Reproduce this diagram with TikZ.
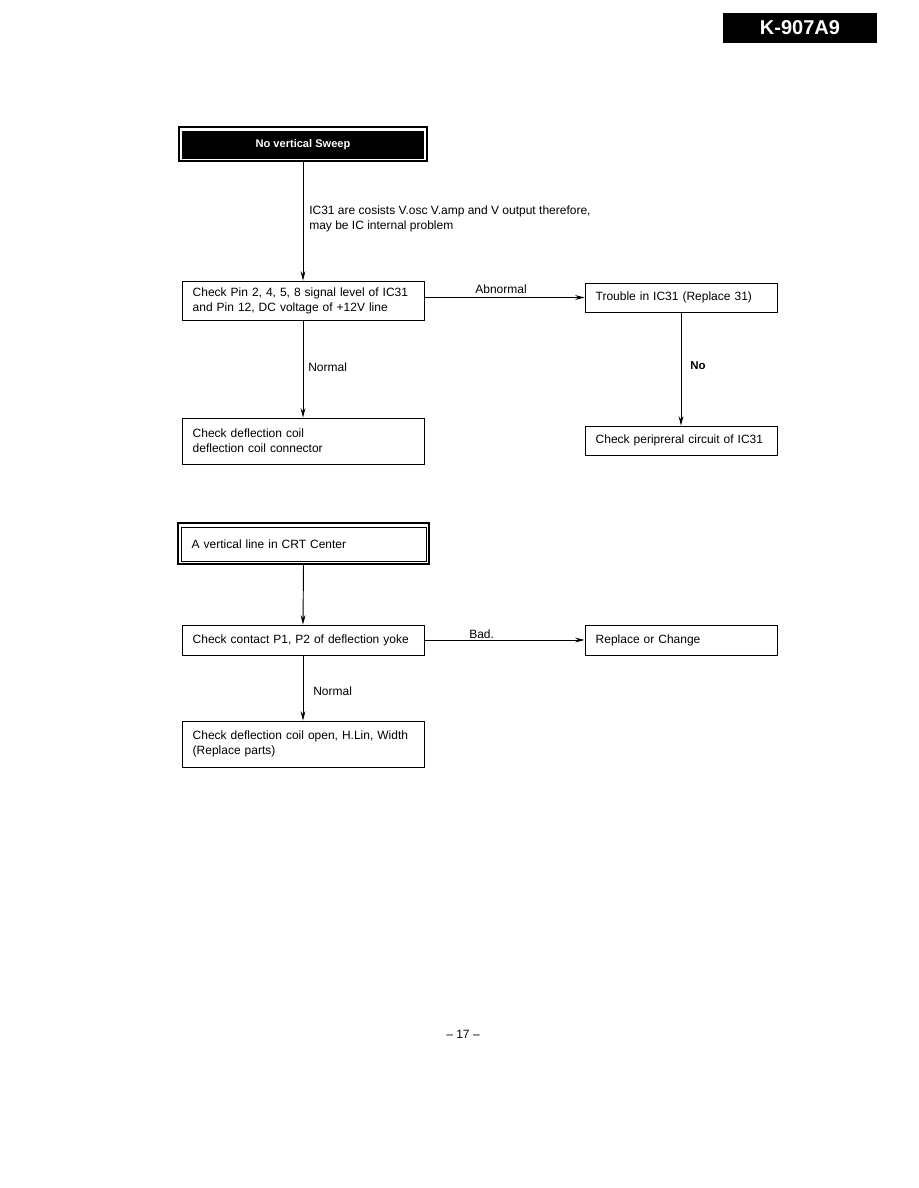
\documentclass[tikz,border=0pt]{standalone}
\usepackage{fontspec}
\setmainfont{Liberation Sans}
\usetikzlibrary{arrows.meta}
\begin{document}
\begin{tikzpicture}[x=0.75pt,y=-0.75pt,
  txt/.style={font=\fontsize{9}{11.25}\selectfont},
  box/.style={txt, draw, line width=0.7pt, inner xsep=8pt, inner ysep=0pt, align=left, anchor=center},
  wide/.style={text width=165.5pt, minimum height=#1},
  narrow/.style={text width=128pt, minimum height=#1},
  arr/.style={line width=0.7pt, -{Stealth[length=7pt,width=3.6pt]}},
  lbl/.style={txt, inner sep=0pt, align=left}]
\useasboundingbox (0,0) rectangle (918,1188);
% header tab
\node[fill=black, minimum width=115.5pt, minimum height=22.5pt, inner sep=0pt,
  text=white, font=\bfseries\fontsize{15}{18}\selectfont] (hdr) at (800,28) {K-907A9};
% first chart
\node[draw, line width=1pt, minimum width=186pt, minimum height=25.5pt, inner sep=0pt] (b1frame) at (303,144) {};
\node[fill=black, minimum width=181.5pt, minimum height=21pt, inner sep=0pt,
  text=white, font=\bfseries\fontsize{8.3}{10}\selectfont] (b1) at (303,145) {No vertical Sweep};
\node[box, wide=29.25pt] (b2) at (303,300.5) {Check Pin 2, 4, 5, 8 signal level of IC31\\and Pin 12, DC voltage of +12V line};
\node[box, narrow=21.75pt] (b3) at (681,297.5) {Trouble in IC31 (Replace 31)};
\node[box, narrow=21.75pt] (b4) at (681,440.5) {Check peripreral circuit of IC31};
\node[box, wide=34.5pt] (b5) at (303,441) {Check deflection coil\\deflection coil connector};
\draw[arr] (b1frame.south) -- (b2.north);
\draw[arr] (b2.east |- b3.west) -- (b3.west);
\draw[arr] (b3.south) -- (b4.north);
\draw[arr] (b2.south) -- (b5.north);
\node[lbl, anchor=west] (t1) at (309,219) {IC31 are cosists V.osc V.amp and V output therefore,\\may be IC internal problem};
\node[lbl] (t2) at (501,289) {Abnormal};
\node[lbl, anchor=west, font=\bfseries\fontsize{8.6}{11.25}\selectfont] (t3) at (690,366) {No};
\node[lbl, anchor=west] (t4) at (308,367) {Normal};
% second chart
\node[draw, line width=0.8pt, minimum width=188.25pt, minimum height=30.75pt, inner sep=0pt] (b6frame) at (303.5,543.5) {};
\node[box, text width=167.75pt, minimum height=25.5pt] (b6) at (303.5,544) {A vertical line in CRT Center};
\node[box, wide=22.5pt] (b7) at (303,640) {Check contact P1, P2 of deflection yoke};
\node[box, narrow=22.5pt] (b8) at (681,640) {Replace or Change};
\node[box, wide=34.5pt] (b9) at (303,744) {Check deflection coil open, H.Lin, Width\\(Replace parts)};
\draw[arr] (b6frame.south) -- (b7.north);
\draw[arr] (b7.east) -- (b8.west);
\draw[arr] (b7.south) -- (b9.north);
\node[lbl, anchor=west] (t5) at (469,634) {Bad.};
\node[lbl, anchor=west] (t6) at (313,691) {Normal};
% page number
\node[lbl] (pg) at (463,1034) {-- 17 --};
\end{tikzpicture}
\end{document}
